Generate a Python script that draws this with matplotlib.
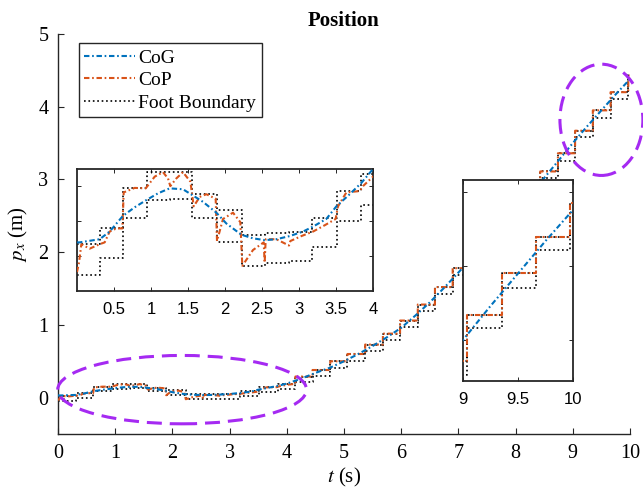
import numpy as np
import matplotlib
matplotlib.use('Agg')
import matplotlib.pyplot as plt
from matplotlib.patches import Ellipse

plt.rcParams['font.family'] = 'serif'
plt.rcParams['font.serif'] = ['Liberation Serif', 'DejaVu Serif']
plt.rcParams['mathtext.fontset'] = 'stix'

# ---------------- data ----------------
step_t = [0.00, 0.31, 0.62, 0.94, 1.25, 1.56, 1.89, 2.23, 2.54, 2.87, 3.18, 3.51,
          3.84, 4.15, 4.45, 4.76, 5.06, 5.37, 5.68, 5.98, 6.29, 6.59, 6.90, 7.21,
          7.51, 7.82, 8.12, 8.43, 8.74, 9.04, 9.35, 9.66, 9.97]
foot_upper = [0.026, 0.061, 0.151, 0.186, 0.186, 0.137, 0.103, 0.047, 0.051, 0.054,
              0.085, 0.144, 0.183, 0.29, 0.38, 0.50, 0.60, 0.73, 0.88, 1.06, 1.28,
              1.52, 1.78, 2.04, 2.30, 2.56, 2.83, 3.11, 3.36, 3.67, 3.95, 4.20, 4.43]
foot_lower = [-0.043, -0.005, 0.085, 0.124, 0.127, 0.085, 0.030, -0.022, -0.015, -0.012,
              0.020, 0.078, 0.113, 0.21, 0.30, 0.41, 0.51, 0.64, 0.79, 0.97, 1.19,
              1.43, 1.69, 1.95, 2.21, 2.47, 2.74, 3.02, 3.26, 3.58, 3.85, 4.11, 4.34]

cog_t = [0.0, 0.036, 0.306, 0.441, 0.622, 0.78, 0.937, 1.095, 1.252, 1.432, 1.568,
         1.703, 1.883, 2.018, 2.221, 2.378, 2.536, 2.694, 2.874, 3.054, 3.189, 3.369,
         3.505, 3.685, 3.842, 4.0, 4.25, 4.5, 4.75, 5.0, 5.25, 5.5, 5.75, 6.0, 6.25,
         6.5, 6.75, 7.0, 7.5, 8.0, 8.5, 9.0, 9.25, 9.5, 9.75, 10.0]
cog_p = [0.030, 0.030, 0.037, 0.054, 0.089, 0.108, 0.124, 0.139, 0.150, 0.148, 0.134,
         0.120, 0.096, 0.072, 0.047, 0.039, 0.035, 0.037, 0.044, 0.054, 0.065, 0.082,
         0.110, 0.137, 0.162, 0.193, 0.26, 0.34, 0.41, 0.50, 0.60, 0.71, 0.83, 0.96, 1.13,
         1.31, 1.51, 1.72, 2.15, 2.58, 3.02, 3.50, 3.73, 3.95, 4.17, 4.38]

cop_t_early = [0.0, 0.027, 0.059, 0.171, 0.239, 0.306, 0.374, 0.441, 0.532, 0.613, 0.631,
               0.779, 0.928, 1.05, 1.162, 1.23, 1.261, 1.342, 1.432, 1.532, 1.577, 1.658,
               1.748, 1.874, 1.892, 1.973, 2.108, 2.207, 2.234, 2.378, 2.523, 2.536, 2.55,
               2.694, 2.865, 2.883, 3.032, 3.189, 3.347, 3.495, 3.527, 3.64, 3.82, 3.865,
               4.0, 4.15]
cop_p_early = [-0.036, -0.015, 0.026, 0.016, 0.021, 0.026, 0.030, 0.054, 0.061, 0.061, 0.141,
               0.151, 0.150, 0.176, 0.186, 0.172, 0.155, 0.172, 0.186, 0.165, 0.110, 0.131,
               0.137, 0.127, 0.033, 0.082, 0.096, 0.075, -0.022, 0.013, 0.030, -0.015, 0.037,
               0.037, 0.023, 0.033, 0.044, 0.054, 0.068, 0.082, 0.110, 0.141, 0.144, 0.155,
               0.176, 0.19]
t_end = 10.0

# ---------------- styles ----------------
C_COG = '#0072BD'
C_COP = '#D95319'
C_ELL = '#A52AF2'
AX_C = '#262626'
DASHDOT = (0, (2.6, 1.3, 0.8, 1.3))

stair_t = np.array(step_t + [t_end])
up_y = np.array(foot_upper + [foot_upper[-1]])
lo_y = np.array(foot_lower + [foot_lower[-1]])

ts = np.array(step_t[13:] + [t_end])
us = np.array(foot_upper[13:])
cop_x = np.concatenate([cop_t_early, np.repeat(ts, 2)[1:-1]])
cop_y = np.concatenate([cop_p_early, np.repeat(us, 2)])


def draw_all(ax, lw=1.5):
    ax.plot(stair_t, up_y, drawstyle='steps-post', color='black', ls=':', lw=1.2,
            label='Foot Boundary', zorder=2)
    ax.plot(stair_t, lo_y, drawstyle='steps-post', color='black', ls=':', lw=1.2, zorder=2)
    ax.plot(cop_x, cop_y, color=C_COP, ls=DASHDOT, lw=lw, label='CoP', zorder=3)
    ax.plot(cog_t, cog_p, color=C_COG, ls=DASHDOT, lw=lw, label='CoG', zorder=4)


fig = plt.figure(figsize=(6.43, 4.97), dpi=100)
W, H = 643, 497

ax = fig.add_axes([58 / W, 1 - 434 / H, 572 / W, 400 / H])
draw_all(ax)
ax.set_xlim(0, 10)
ax.set_ylim(-0.5, 5)
ax.set_xticks(range(0, 11))
ax.set_yticks(range(0, 6))
for s in ['top', 'right']:
    ax.spines[s].set_visible(False)
for s in ['left', 'bottom']:
    ax.spines[s].set_color(AX_C)
    ax.spines[s].set_linewidth(1.0)
ax.tick_params(direction='in', length=4, width=0.8, labelsize=14.5, pad=7, colors=AX_C,
               labelcolor='black')
ax.set_xlabel('$t$ (s)', fontsize=15, labelpad=2)
ax.set_ylabel('$p_x$ (m)', fontsize=15, labelpad=6)
ax.set_title('Position', fontsize=15, fontweight='bold', pad=6)

h, l = ax.get_legend_handles_labels()
order = [2, 1, 0]
leg = ax.legend([h[i] for i in order], [l[i] for i in order], loc='upper left',
                bbox_to_anchor=(0.036, 0.977), fontsize=14, frameon=True, fancybox=False,
                edgecolor=AX_C, framealpha=1, handlelength=2.6, handletextpad=0.15,
                labelspacing=0.25, borderpad=0.3, borderaxespad=0)
leg.get_frame().set_linewidth(1.0)

ell_dash = (0, (4.9, 2.6))
e1 = Ellipse((2.17, 0.11), 4.35, 0.94, fill=False, ec=C_ELL, lw=2.2, ls=ell_dash,
             clip_on=False, zorder=6)
e2 = Ellipse((9.5, 3.82), 1.45, 1.53, fill=False, ec=C_ELL, lw=2.2, ls=ell_dash,
             clip_on=False, zorder=6)
ax.add_patch(e1)
ax.add_patch(e2)


def style_inset(a):
    for s in a.spines.values():
        s.set_color(AX_C)
        s.set_linewidth(1.3)
    a.tick_params(direction='in', length=3, width=0.7, top=True, right=True,
                  labelleft=False, labelsize=12, pad=8, colors=AX_C, labelcolor='black')
    for lab in a.get_xticklabels():
        lab.set_family('Liberation Sans')


ax1 = fig.add_axes([77 / W, 1 - 291 / H, 296 / W, 122 / H])
draw_all(ax1)
ax1.set_xlim(0, 4)
ax1.set_ylim(-0.078, 0.193)
ax1.set_xticks([0.5, 1, 1.5, 2, 2.5, 3, 3.5, 4])
ax1.set_xticklabels(['0.5', '1', '1.5', '2', '2.5', '3', '3.5', '4'])
ax1.set_yticks([0.0, 0.078, 0.156])
style_inset(ax1)

ax2 = fig.add_axes([463 / W, 1 - 381 / H, 110 / W, 201 / H])
draw_all(ax2)
ax2.set_xlim(9, 10)
ax2.set_ylim(3.222, 4.583)
ax2.set_xticks([9, 9.5, 10])
ax2.set_xticklabels(['9', '9.5', '10'])
ax2.set_yticks([3.5, 4.0, 4.5])
style_inset(ax2)

fig.savefig('out.png', dpi=100)
